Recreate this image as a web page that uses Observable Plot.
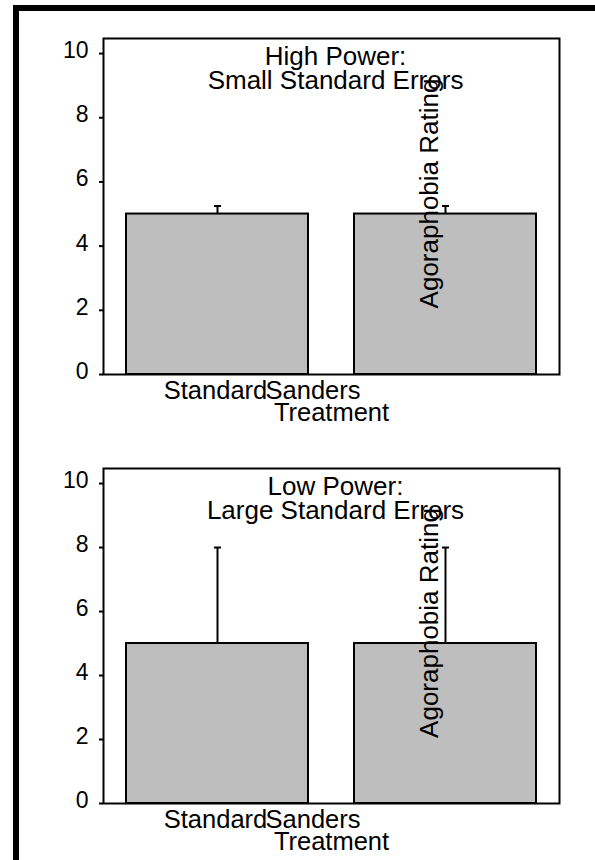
<!DOCTYPE html>
<html><head><meta charset="utf-8">
<script src="https://cdn.jsdelivr.net/npm/d3@7"></script>
<script src="https://cdn.jsdelivr.net/npm/@observablehq/plot@0.6"></script>
<style>
html,body{margin:0;padding:0;background:#fff;width:595px;height:860px;overflow:hidden;}
#page{position:relative;width:595px;height:860px;}
#border{position:absolute;left:13px;top:5px;width:600px;height:900px;border-top:6px solid #000;border-left:6px solid #000;box-sizing:border-box;z-index:2;}
.panel{position:absolute;left:0;z-index:1;}
</style></head><body><div id="page"><div id="border"></div></div>
<script>
const treatments = ["Standard", "Sanders"];
const ratingHigh = [5, 5];
const seHigh = [0.25, 0.25];
const ratingLow = [5, 5];
const seLow = [3, 3];
const yTicks = [0, 2, 4, 6, 8, 10];
const panelTitles = ["High Power:\nSmall Standard Errors", "Low Power:\nLarge Standard Errors"];
const yLabel = "Agoraphobia Rating";
const xLabel = "Treatment";

const FONT = "'Liberation Sans', Arial, Helvetica, sans-serif";
const capSymbol = {draw(ctx) { ctx.moveTo(-3.5, 0); ctx.lineTo(3.5, 0); }};

function panel(values, errors, title, top, mb) {
  const data = treatments.map((t, i) => ({t, v: values[i], se: errors[i]}));
  const chart = Plot.plot({
    width: 595, height: 430,
    marginLeft: 103, marginRight: 36, marginTop: 38, marginBottom: mb,
    style: {fontFamily: FONT, fontSize: "26px", color: "black", background: "none", overflow: "visible"},
    x: {type: "band", domain: treatments, paddingInner: 0.2, paddingOuter: 0.1, axis: null},
    y: {domain: [0, 10.47], axis: null},
    marks: [
      Plot.barY(data, {x: "t", y: "v", fill: "#bebebe", stroke: "black", strokeWidth: 2}),
      Plot.ruleX(data, {x: "t", y1: "v", y2: d => d.v + d.se, stroke: "black", strokeWidth: 2}),
      Plot.dot(data, {x: "t", y: d => d.v + d.se, symbol: capSymbol, r: 3.5, stroke: "black", strokeWidth: 2, fill: "none"}),
      Plot.frame({stroke: "black", strokeWidth: 2}),
      Plot.axisY({ticks: yTicks, tickSize: 4, strokeWidth: 2, text: null, label: null}),
      Plot.axisY({ticks: yTicks, tickSize: 0, tickPadding: 15, fontSize: 23, dy: -3, label: null}),
      Plot.text(["Standard"], {x: d => d, frameAnchor: "bottom", lineAnchor: "top", dy: 6, dx: -2, fontSize: 25.5}),
      Plot.text(["Sanders"], {x: d => d, frameAnchor: "bottom", lineAnchor: "top", dy: 6, dx: -132.5, fontSize: 25.5}),
      Plot.text([xLabel], {frameAnchor: "bottom", lineAnchor: "top", dy: 28, dx: 0, fontSize: 25.5}),
      Plot.text([title], {frameAnchor: "top", lineAnchor: "top", dy: 10, dx: 4, fontSize: 26, lineHeight: 0.9}),
      Plot.text([yLabel], {frameAnchor: "middle", rotate: -90, dx: 98, dy: -13, fontSize: 26})
    ]
  });
  chart.classList.add("panel");
  chart.style.top = top + "px";
  document.getElementById("page").appendChild(chart);
}

panel(ratingHigh, seHigh, panelTitles[0], 0, 56);
panel(ratingLow, seLow, panelTitles[1], 430, 57);
</script>
</body></html>
